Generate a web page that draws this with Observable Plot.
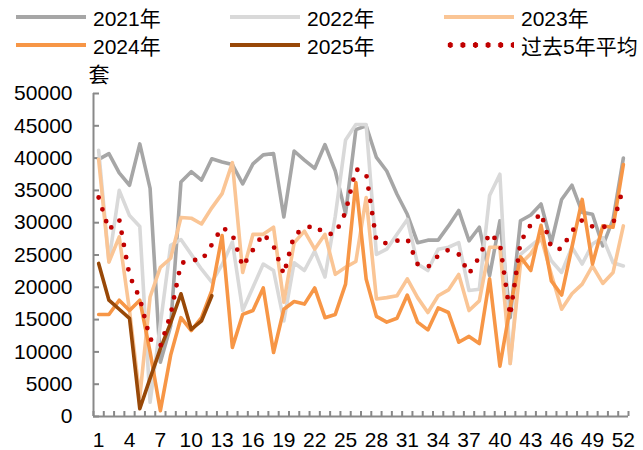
<!DOCTYPE html>
<html><head><meta charset="utf-8">
<script src="https://cdn.jsdelivr.net/npm/d3@7"></script>
<script src="https://cdn.jsdelivr.net/npm/@observablehq/plot@0.6"></script>
<style>
body{margin:0;background:#fff;font-family:"Liberation Sans",Arial,"Noto Sans CJK SC",sans-serif;}
#wrap{width:643px;}
#legend{position:relative;width:643px;height:62px;font-size:21px;color:#000;}
.item{position:absolute;display:flex;align-items:center;height:28px;white-space:nowrap;}
.sw{display:inline-block;width:70px;height:4px;margin-right:7px;}
.dots{height:6px;background-image:radial-gradient(circle,#c00000 2.5px,transparent 3px);background-size:12.6px 6px;background-repeat:repeat-x;}
#chart svg{overflow:visible;}
</style></head><body>
<div id="wrap"><div id="legend"></div><div id="chart"></div></div>
<script>
const weeks = d3.range(1, 53);
const xLabels = d3.range(1, 53, 3);
const yTicks = d3.range(0, 50001, 5000);
const unitLabel = "套";

const seriesNames = ["2021年", "2022年", "2023年", "2024年", "2025年"];
const avgName = "过去5年平均";

const s2021 = [39800,40700,37700,35800,42200,35300,8400,14000,36300,37900,36600,39900,39400,39000,36000,39100,40500,40700,30900,41100,39700,38400,42100,38000,31400,44400,45000,40100,38000,34400,31300,26900,27300,27300,29500,31900,27200,29300,21800,30300,15300,30300,31200,32900,26900,33600,35800,31600,31300,26400,30500,40000];
const s2022 = [41200,24000,35000,31100,29400,2200,14300,26500,27400,25100,22800,20800,23500,27000,16400,20000,23600,22600,14800,23800,22600,25600,21600,31000,42800,45200,45200,25100,25900,28200,30500,23600,22600,25900,26200,26900,19500,19700,34200,37500,8200,25100,26400,27700,24100,22300,26200,23600,26700,27700,23800,23300];
const s2023 = [39800,23900,27800,16400,3000,18500,23100,24500,30800,30700,29800,32300,34500,39300,22300,28200,28200,29300,17700,26900,28700,25900,28200,22000,23100,24000,33900,18200,18400,18700,21300,18400,16100,18700,19600,22000,16400,17900,26200,26200,8200,23600,25200,27700,22000,16600,19000,20500,23300,20600,22300,29500];
const s2024 = [15800,15800,18000,16400,18000,10000,900,9500,15300,13300,15300,19500,28000,10700,15800,16400,19900,9900,16600,17800,17400,19900,15300,15800,20500,36200,21300,15500,14600,15200,18800,14600,13400,16800,16100,11500,12400,11300,21300,7800,16900,24700,22600,29600,21000,18800,26200,33600,23600,29500,29300,39000];
const s2025 = [23700,18000,16600,15200,1200,5900,10500,14500,19000,13500,14800,18700];
const sAvg = [33900,28900,30500,21800,18300,12000,10900,15800,23700,24300,24100,26600,29300,28200,23200,25800,28300,26400,22000,28100,29100,29600,28200,28300,31600,38300,37600,27200,26800,27200,27500,23600,23100,24900,25800,25100,22100,24700,28400,26800,15600,27000,29700,31500,26100,25900,28700,30400,29400,29300,29800,35500];

const seriesColors = ["#a6a6a6", "#d9d9d9", "#fac595", "#f79646", "#984807"];
const avgColor = "#c00000";

const allSeries = [s2021, s2022, s2023, s2024, s2025];
const rows = allSeries.flatMap((vals, k) => vals.map((v, i) => ({week: weeks[i], value: v, name: seriesNames[k]})));
const avgRows = sAvg.map((v, i) => ({week: weeks[i], value: v}));

// legend
const legend = document.getElementById("legend");
const legendItems = [...seriesNames.map((n, k) => ({name: n, color: seriesColors[k]})), {name: avgName, dots: true}];
const colLeft = [16, 230, 444];
const rowTop = [3, 31];
legendItems.forEach((it, i) => {
  const d = document.createElement("div");
  d.className = "item";
  d.style.left = colLeft[i % 3] + "px";
  d.style.top = rowTop[Math.floor(i / 3)] + "px";
  const sw = document.createElement("span");
  sw.className = "sw" + (it.dots ? " dots" : "");
  if (!it.dots) sw.style.background = it.color;
  const t = document.createElement("span");
  t.textContent = it.name;
  d.appendChild(sw); d.appendChild(t);
  legend.appendChild(d);
});

const axisColor = "#898989";
const chart = Plot.plot({
  width: 643,
  height: 388,
  marginTop: 31,
  marginBottom: 34,
  marginLeft: 93,
  marginRight: 15,
  style: {fontSize: "21px", fontFamily: '"Liberation Sans", Arial, "Noto Sans CJK SC", sans-serif', color: "#000", background: "#fff"},
  x: {domain: [0.5, 52.5], label: null},
  y: {domain: [0, 50000], label: null},
  color: {domain: seriesNames, range: seriesColors},
  marks: [
    Plot.axisY({ticks: yTicks, tickSize: 6, dx: 6, fill: "none", stroke: axisColor, strokeWidth: 2, label: null}),
    Plot.axisY({ticks: yTicks, tickSize: 0, stroke: "none", tickPadding: 21, tickFormat: d => String(d), fill: "#000", label: null}),
    Plot.axisX({ticks: d3.range(0.5, 53, 1), tickSize: 5, dy: -5, fill: "none", stroke: axisColor, strokeWidth: 2, label: null}),
    Plot.axisX({ticks: xLabels, tickSize: 0, stroke: "none", tickPadding: 16, tickFormat: d => String(d), fill: "#000", label: null}),
    Plot.ruleX([0.5], {stroke: axisColor, strokeWidth: 2}),
    Plot.ruleY([0], {stroke: axisColor, strokeWidth: 2}),
    Plot.line(rows, {x: "week", y: "value", z: "name", stroke: "name", strokeWidth: 3.6}),
    Plot.line(avgRows, {x: "week", y: "value", stroke: avgColor, strokeWidth: 4.8, strokeDasharray: "0 12.4", strokeLinecap: "round"}),
    Plot.text([unitLabel], {frameAnchor: "top-left", text: d => d, dx: -5, dy: -18, textAnchor: "start", lineAnchor: "middle", fill: "#000"})
  ]
});
document.getElementById("chart").appendChild(chart);
</script>
</body></html>
